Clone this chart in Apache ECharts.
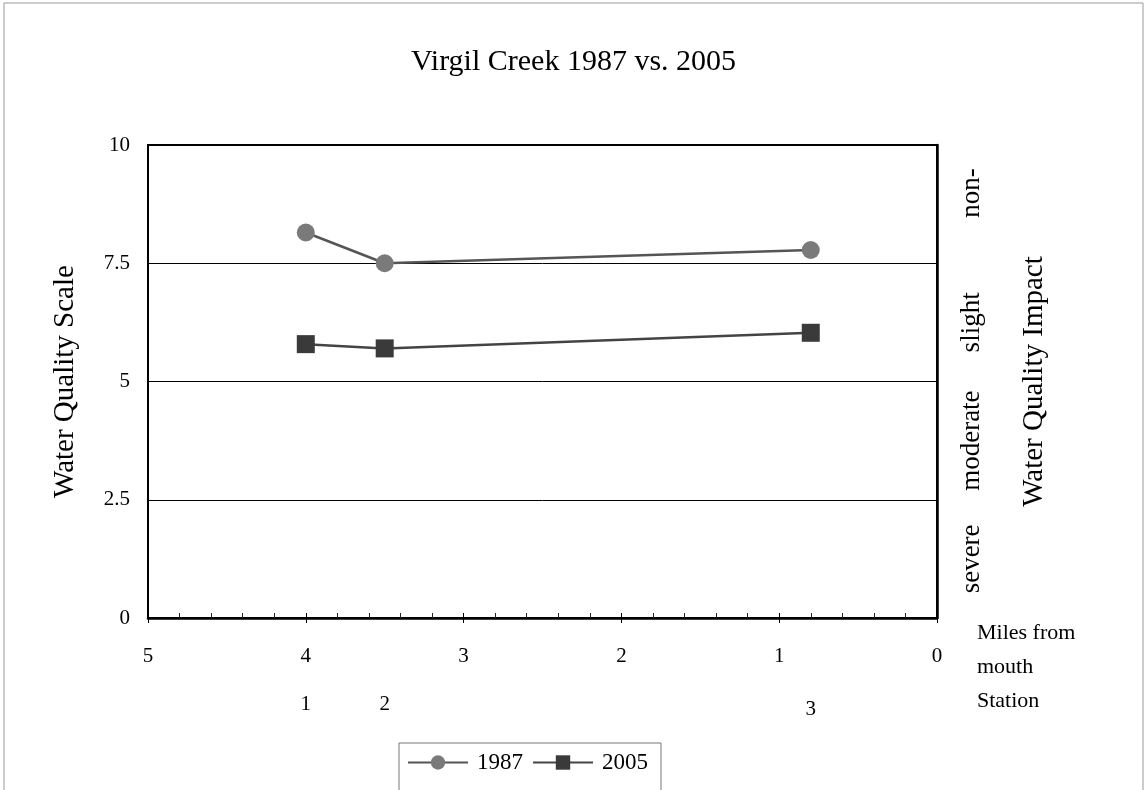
<!DOCTYPE html>
<html>
<head>
<meta charset="utf-8">
<script src="https://cdn.jsdelivr.net/npm/echarts@6/dist/echarts.min.js"></script>
<style>
html, body { margin: 0; padding: 0; background: #fff; }
#chart { width: 1147px; height: 790px; }
</style>
</head>
<body>
<div id="chart"></div>
<script>
// miles from mouth for each station
var stationMiles = [4, 3.5, 0.8];
var stationLabels = ['1', '2', '3'];
var scores1987 = [8.15, 7.5, 7.78];
var scores2005 = [5.79, 5.7, 6.03];
var impactLabels = ['severe', 'moderate', 'slight', 'non-'];
var seriesNames = ['1987', '2005'];

var serif = '"Liberation Serif", "DejaVu Serif", serif';

function pairs(ys) {
  return stationMiles.map(function (m, i) { return [m, ys[i]]; });
}

var myecharts = echarts.init(document.getElementById('chart'));

var option = {
  backgroundColor: '#fff',
  animation: false,
  textStyle: { fontFamily: serif, color: '#000' },
  title: {
    text: 'Virgil Creek 1987 vs. 2005',
    left: 'center',
    top: 42,
    textStyle: { fontFamily: serif, fontSize: 30, fontWeight: 'normal', color: '#000' }
  },
  grid: {
    left: 148, right: 210, top: 145, bottom: 172,
    show: true, borderColor: '#000', borderWidth: 2
  },
  legend: {
    left: 399,
    top: 743,
    padding: [8, 13, 30, 8],
    borderColor: '#777',
    borderWidth: 1,
    itemWidth: 60,
    itemHeight: 18,
    itemGap: 9,
    textStyle: { fontFamily: serif, fontSize: 23, color: '#000', padding: [0, 0, 0, 4] },
    data: seriesNames
  },
  xAxis: [
    {
      type: 'value',
      min: 0, max: 5, interval: 1,
      inverse: true,
      axisLine: { lineStyle: { color: '#000', width: 2.5 } },
      axisTick: { inside: true, length: 5, lineStyle: { color: '#000' } },
      minorTick: { show: true, splitNumber: 5, length: 5, lineStyle: { color: '#222' } },
      splitLine: { show: false },
      axisLabel: { margin: 28, fontFamily: serif, fontSize: 21, color: '#000' }
    },
    {
      type: 'value',
      min: 0, max: 5, interval: 1,
      inverse: true,
      position: 'bottom',
      axisLine: { show: false },
      axisTick: { inside: false, length: 5, lineStyle: { color: '#000' } },
      splitLine: { show: false },
      axisLabel: { show: false }
    }
  ],
  yAxis: [
    {
      type: 'value',
      min: 0, max: 10, interval: 2.5,
      name: 'Water Quality Scale',
      nameLocation: 'middle',
      nameGap: 68,
      nameTextStyle: { fontFamily: serif, fontSize: 29, color: '#000' },
      axisLine: { show: true, lineStyle: { color: '#000', width: 2.5 } },
      axisTick: { show: false },
      splitLine: { show: true, lineStyle: { color: '#000', width: 1 } },
      axisLabel: { margin: 18, fontFamily: serif, fontSize: 21, color: '#000' }
    },
    {
      type: 'category',
      position: 'right',
      data: impactLabels,
      boundaryGap: true,
      name: 'Water Quality Impact',
      nameLocation: 'middle',
      nameGap: 83,
      nameRotate: 90,
      nameTextStyle: { fontFamily: serif, fontSize: 29, color: '#000' },
      axisLine: { show: true, lineStyle: { color: '#000', width: 2 } },
      axisTick: { show: false },
      splitLine: { show: false },
      axisLabel: {
        interval: 0, hideOverlap: false, rotate: 90, margin: 21,
        fontFamily: serif, fontSize: 27, color: '#000',
        // "non-" sits a little above the band centre in the original
        formatter: function (v) { return v === 'non-' ? '{up|' + v + '}' : v; },
        rich: { up: { fontFamily: serif, fontSize: 27, color: '#000', padding: [0, 0, 0, 22] } }
      }
    }
  ],
  series: [
    {
      name: seriesNames[0],
      type: 'line',
      data: pairs(scores1987),
      symbol: 'circle',
      symbolSize: 18,
      lineStyle: { color: '#555', width: 2.5 },
      itemStyle: { color: '#7a7a7a' }
    },
    {
      name: seriesNames[1],
      type: 'line',
      data: pairs(scores2005),
      symbol: 'rect',
      symbolSize: 18,
      lineStyle: { color: '#444', width: 2.5 },
      itemStyle: { color: '#3a3a3a' }
    }
  ]
};

myecharts.setOption(option);

// station numbers under the mile ticks, plus side notes
var extras = [
  {
    type: 'rect', silent: true,
    shape: { x: 4, y: 3, width: 1139, height: 820 },
    style: { fill: 'none', stroke: '#999', lineWidth: 1 }
  },
  {
    type: 'text', left: 977, top: 616,
    style: { text: 'Miles from\nmouth', font: '22px ' + serif, fill: '#000', lineHeight: 34 }
  },
  {
    type: 'text', left: 977, top: 690,
    style: { text: 'Station', font: '22px ' + serif, fill: '#000' }
  }
];
stationMiles.forEach(function (m, i) {
  var px = myecharts.convertToPixel({ xAxisIndex: 0 }, m);
  extras.push({
    type: 'text',
    x: px, y: i === 2 ? 709 : 704,
    style: { text: stationLabels[i], font: '21px ' + serif, fill: '#000', align: 'center', verticalAlign: 'middle' }
  });
});
myecharts.setOption({ graphic: extras });
</script>
</body>
</html>
